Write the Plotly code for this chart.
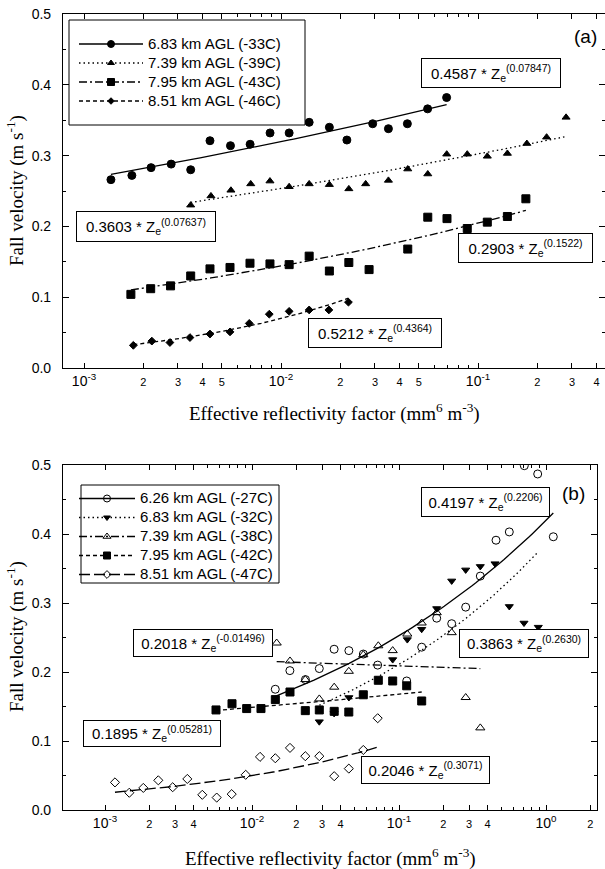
import numpy as np
import plotly.graph_objects as go

W, H = 605, 869


def px(x):
    return x / W


def py(y):
    return 1 - y / H


# ---------------- Panel (a) data ----------------
a_names = ["6.83 km AGL (-33C)", "7.39 km AGL (-39C)", "7.95 km AGL (-43C)", "8.51 km AGL (-46C)"]

a1_x = [1.37e-3, 1.75e-3, 2.19e-3, 2.77e-3, 3.48e-3, 4.36e-3, 5.54e-3, 6.97e-3, 8.80e-3,
        1.10e-2, 1.39e-2, 1.76e-2, 2.16e-2, 2.92e-2, 3.51e-2, 4.38e-2, 5.55e-2, 6.93e-2]
a1_y = [0.266, 0.272, 0.283, 0.288, 0.280, 0.321, 0.314, 0.316, 0.332,
        0.332, 0.347, 0.340, 0.322, 0.345, 0.338, 0.345, 0.366, 0.382]

a2_x = [3.48e-3, 4.41e-3, 5.57e-3, 7.02e-3, 8.79e-3, 1.10e-2, 1.39e-2, 1.76e-2, 2.21e-2, 2.69e-2,
        3.51e-2, 4.40e-2, 5.56e-2, 6.94e-2, 8.82e-2, 0.1115, 0.141, 0.177, 0.223, 0.280]
a2_y = [0.230, 0.243, 0.251, 0.260, 0.264, 0.256, 0.260, 0.259, 0.253, 0.260,
        0.265, 0.281, 0.274, 0.302, 0.302, 0.299, 0.303, 0.317, 0.326, 0.354]

a3_x = [1.73e-3, 2.18e-3, 2.75e-3, 3.48e-3, 4.36e-3, 5.51e-3, 6.96e-3, 8.79e-3, 1.10e-2, 1.39e-2,
        1.76e-2, 2.21e-2, 2.80e-2, 4.40e-2, 5.56e-2, 6.96e-2, 8.82e-2, 0.1115, 0.141, 0.175]
a3_y = [0.104, 0.112, 0.116, 0.130, 0.140, 0.142, 0.148, 0.147, 0.146, 0.158,
        0.137, 0.149, 0.139, 0.168, 0.213, 0.211, 0.197, 0.206, 0.214, 0.239]

a4_x = [1.78e-3, 2.21e-3, 2.73e-3, 3.45e-3, 4.36e-3, 5.51e-3, 6.90e-3, 8.72e-3, 1.10e-2, 1.39e-2,
        1.75e-2, 2.20e-2]
a4_y = [0.032, 0.038, 0.036, 0.043, 0.048, 0.051, 0.063, 0.076, 0.080, 0.082, 0.082, 0.093]

a_coef = [0.4587, 0.3603, 0.2903, 0.5212]
a_expo = [0.07847, 0.07637, 0.1522, 0.4364]
a_coef_txt = ["0.4587", "0.3603", "0.2903", "0.5212"]
a_expo_txt = ["0.07847", "0.07637", "0.1522", "0.4364"]

# ---------------- Panel (b) data ----------------
b_names = ["6.26 km AGL (-27C)", "6.83 km AGL (-32C)", "7.39 km AGL (-38C)",
           "7.95 km AGL (-42C)", "8.51 km AGL (-47C)"]

b1_x = [1.44e-2, 1.81e-2, 2.31e-2, 2.87e-2, 3.62e-2, 4.56e-2, 5.72e-2, 7.16e-2, 0.1128, 0.1427,
        0.1805, 0.2283, 0.2842, 0.3573, 0.457, 0.5627, 0.7118, 0.878, 1.121]
b1_y = [0.175, 0.202, 0.189, 0.205, 0.233, 0.231, 0.226, 0.210, 0.187, 0.236,
        0.278, 0.270, 0.294, 0.339, 0.391, 0.403, 0.499, 0.487, 0.396]

b2_x = [2.87e-2, 3.62e-2, 4.56e-2, 9.06e-2, 0.1139, 0.1427, 0.1805, 0.2283, 0.2842, 0.3573,
        0.4499, 0.5627, 0.7085, 0.8862]
b2_y = [0.128, 0.140, 0.163, 0.218, 0.247, 0.262, 0.292, 0.332, 0.348, 0.353,
        0.357, 0.295, 0.271, 0.265]

b3_x = [1.472e-2, 1.813e-2, 2.305e-2, 2.87e-2, 3.624e-2, 4.556e-2, 5.717e-2, 7.23e-2, 9.06e-2,
        0.1139, 0.1427, 0.1805, 0.2283, 0.2842, 0.3573]
b3_y = [0.242, 0.216, 0.189, 0.161, 0.178, 0.201, 0.225, 0.238, 0.231,
        0.255, 0.271, 0.286, 0.257, 0.163, 0.119]

b4_x = [5.69e-3, 7.31e-3, 9.20e-3, 1.151e-2, 1.441e-2, 1.813e-2, 2.305e-2, 2.87e-2, 3.624e-2,
        4.556e-2, 5.717e-2, 7.23e-2, 9.06e-2, 0.1128, 0.1427]
b4_y = [0.145, 0.154, 0.147, 0.147, 0.160, 0.171, 0.144, 0.145, 0.143,
        0.142, 0.167, 0.188, 0.187, 0.180, 0.158]

b5_x = [1.169e-3, 1.463e-3, 1.822e-3, 2.305e-3, 2.887e-3, 3.630e-3, 4.590e-3, 5.753e-3, 7.275e-3,
        9.06e-3, 1.134e-2, 1.441e-2, 1.813e-2, 2.305e-2, 2.87e-2, 3.624e-2, 4.556e-2, 5.717e-2,
        7.163e-2]
b5_y = [0.040, 0.025, 0.032, 0.043, 0.033, 0.045, 0.022, 0.018, 0.023,
        0.051, 0.077, 0.075, 0.090, 0.078, 0.078, 0.049, 0.060, 0.087, 0.133]

b_coef = [0.4197, 0.3863, 0.2018, 0.1895, 0.2046]
b_expo = [0.2206, 0.2630, -0.01496, 0.05281, 0.3071]
b_coef_txt = ["0.4197", "0.3863", "0.2018", "0.1895", "0.2046"]
b_expo_txt = ["0.2206", "0.2630", "-0.01496", "0.05281", "0.3071"]

# tick label texts
y_ticks = [0.0, 0.1, 0.2, 0.3, 0.4, 0.5]
a_decades = [-3, -2, -1]
a_minor_labels = [2, 3, 4, 5]
b_decades = [-3, -2, -1, 0]
b_minor_labels = [2, 3, 4]

# ---------------- styles ----------------
BLACK = "black"
a_sym = ["circle", "triangle-up", "square", "diamond"]
a_msize = [8, 7, 8, 6]
a_dash = ["solid", "1.5px,3px", "8px,3px,2px,3px", "4px,3px"]

b_sym = ["circle-open", "triangle-down", "triangle-up-open", "square", "diamond-open"]
b_msize = [8, 7, 8, 8, 7]
b_dash = ["solid", "1.5px,3px", "8px,3px,2px,3px", "4px,3px", "11px,4px"]

a_xs = [a1_x, a2_x, a3_x, a4_x]
a_ys = [a1_y, a2_y, a3_y, a4_y]
b_xs = [b1_x, b2_x, b3_x, b4_x, b5_x]
b_ys = [b1_y, b2_y, b3_y, b4_y, b5_y]

fig = go.Figure()


def add_panel(xs, ys, names, coefs, expos, syms, msizes, dashes, xa, ya, legend_name):
    for i in range(len(xs)):
        x = np.array(xs[i])
        fx = np.logspace(np.log10(x.min()), np.log10(x.max()), 80)
        fy = coefs[i] * fx ** expos[i]
        fig.add_trace(go.Scatter(x=fx, y=fy, mode="lines", xaxis=xa, yaxis=ya,
                                 line=dict(color=BLACK, width=1.3, dash=dashes[i]),
                                 showlegend=False, hoverinfo="skip"))
    for i in range(len(xs)):
        fig.add_trace(go.Scatter(x=xs[i], y=ys[i], mode="markers", xaxis=xa, yaxis=ya,
                                 marker=dict(symbol=syms[i], size=msizes[i], color=BLACK,
                                             line=dict(color=BLACK, width=1)),
                                 showlegend=False))
    for i in range(len(xs)):
        fig.add_trace(go.Scatter(x=[None], y=[None], mode="lines+markers", xaxis=xa, yaxis=ya,
                                 name="<span style='font-size:15px'>" + names[i] + "</span>",
                                 legend=legend_name,
                                 line=dict(color=BLACK, width=1.3, dash=dashes[i]),
                                 marker=dict(symbol=syms[i], size=msizes[i] - 1, color=BLACK,
                                             line=dict(color=BLACK, width=1))))


add_panel(a_xs, a_ys, a_names, a_coef, a_expo, a_sym, a_msize, a_dash, "x", "y", "legend")
add_panel(b_xs, b_ys, b_names, b_coef, b_expo, b_sym, b_msize, b_dash, "x2", "y2", "legend2")


def log_ticks(decades, minor_labels, vmax):
    vals, texts, minor_vals = [], [], []
    for d in decades:
        for m in range(1, 10):
            v = m * 10.0 ** d
            if v > vmax:
                break
            if m == 1:
                vals.append(v)
                texts.append("10<sup>%d</sup>" % d)
            elif m in minor_labels:
                vals.append(v)
                texts.append("<span style='font-size:11px'>%d</span>" % m)
            else:
                minor_vals.append(v)
    return vals, texts, minor_vals


a_tv, a_tt, a_mv = log_ticks(a_decades, a_minor_labels, 0.45)
b_tv, b_tt, b_mv = log_ticks(b_decades, b_minor_labels, 2.1)

TICKFONT = dict(family="Liberation Sans", size=14, color=BLACK)
common_x = dict(type="log", ticks="inside", ticklen=5, tickcolor=BLACK, showline=True,
                linecolor=BLACK, linewidth=1.2, mirror="allticks", showgrid=False, zeroline=False,
                tickfont=TICKFONT, tickmode="array", tickangle=0, automargin=False)
common_y = dict(range=[0, 0.5], tickmode="array", tickvals=y_ticks, tickformat=".1f",
                ticks="inside", ticklen=6, tickcolor=BLACK, showline=True, linecolor=BLACK,
                linewidth=1.2, mirror="allticks", showgrid=False, zeroline=False,
                tickfont=TICKFONT, ticklabelstandoff=8, automargin=False,
                minor=dict(dtick=0.05, ticks="inside", ticklen=3, tickcolor=BLACK))

fig.update_layout(
    xaxis=dict(common_x, domain=[px(63), 1.0], anchor="y",
               range=[-3.1066, -0.3553], tickvals=a_tv, ticktext=a_tt,
               minor=dict(tickmode="array", tickvals=a_mv, ticks="inside", ticklen=3,
                          tickcolor=BLACK, showgrid=False)),
    yaxis=dict(common_y, domain=[py(368), py(14)], anchor="x"),
    xaxis2=dict(common_x, domain=[px(63), px(597)], anchor="y2",
                range=[-3.2857, 0.3469], tickvals=b_tv, ticktext=b_tt,
                minor=dict(tickmode="array", tickvals=b_mv, ticks="inside", ticklen=3,
                           tickcolor=BLACK, showgrid=False)),
    yaxis2=dict(common_y, domain=[py(810), py(465)], anchor="x2"),
)

# legend frames
shapes = [
    dict(type="rect", xref="paper", yref="paper", x0=px(69), x1=px(305), y0=py(125), y1=py(20),
         fillcolor="white", line=dict(color=BLACK, width=1), layer="above"),
    dict(type="rect", xref="paper", yref="paper", x0=px(81), x1=px(279), y0=py(583), y1=py(485),
         fillcolor="white", line=dict(color=BLACK, width=1), layer="above"),
]

annotations = []
EQFONT = dict(family="Liberation Sans", size=15, color=BLACK)


def eq_box(coef_t, expo_t, cx, cy, w, h):
    annotations.append(dict(
        xref="paper", yref="paper", x=px(cx), y=py(cy), xanchor="center", yanchor="middle",
        text=coef_t + " * Z<sub>e</sub><sup>(" + expo_t + ")</sup>", showarrow=False,
        font=EQFONT, bgcolor="white", bordercolor=BLACK, borderwidth=1, borderpad=4,
        width=w - 10, height=h - 10, align="center", valign="middle"))


a_box = [(491, 73, 140, 30), (146, 226, 140, 31), (525, 248, 135, 30), (374.5, 333, 134, 30)]
for i in range(4):
    eq_box(a_coef_txt[i], a_expo_txt[i], *a_box[i])

b_box = [(486, 502, 129, 30), (524, 643, 130, 29), (203, 643, 140, 28), (152, 733, 138, 27),
         (425.5, 770, 129, 28)]
for i in range(5):
    eq_box(b_coef_txt[i], b_expo_txt[i], *b_box[i])

PANEL_FONT = dict(family="Liberation Sans", size=19, color=BLACK)
annotations.append(dict(xref="paper", yref="paper", x=px(585), y=py(37), text="(a)",
                        showarrow=False, font=PANEL_FONT, xanchor="center", yanchor="middle"))
annotations.append(dict(xref="paper", yref="paper", x=px(573), y=py(493), text="(b)",
                        showarrow=False, font=PANEL_FONT, xanchor="center", yanchor="middle"))

TITLEFONT = dict(family="Liberation Serif", size=19, color=BLACK)
xt = "Effective reflectivity factor (mm<sup>6</sup> m<sup>-3</sup>)"
yt = "Fall velocity (m s<sup>-1</sup>)"
annotations.append(dict(xref="paper", yref="paper", x=px(334), y=py(413), text=xt,
                        showarrow=False, font=TITLEFONT, xanchor="center", yanchor="middle"))
annotations.append(dict(xref="paper", yref="paper", x=px(330), y=py(857), text=xt,
                        showarrow=False, font=TITLEFONT, xanchor="center", yanchor="middle"))
annotations.append(dict(xref="paper", yref="paper", x=px(15), y=py(191), text=yt, textangle=-90,
                        showarrow=False, font=TITLEFONT, xanchor="center", yanchor="middle"))
annotations.append(dict(xref="paper", yref="paper", x=px(15), y=py(637), text=yt, textangle=-90,
                        showarrow=False, font=TITLEFONT, xanchor="center", yanchor="middle"))

legend_common = dict(xanchor="left", yanchor="top", bgcolor="rgba(0,0,0,0)", borderwidth=0,
                     tracegroupgap=0, traceorder="normal")
fig.update_layout(
    width=W, height=H, margin=dict(l=0, r=0, t=0, b=0),
    paper_bgcolor="white", plot_bgcolor="white",
    shapes=shapes, annotations=annotations,
    legend=dict(legend_common, x=px(74), y=py(29.5), itemwidth=64,
                font=dict(family="Liberation Sans", size=12.3, color=BLACK)),
    legend2=dict(legend_common, x=px(74), y=py(484), itemwidth=56,
                 font=dict(family="Liberation Sans", size=11.5, color=BLACK)),
    showlegend=True,
)

fig.write_html("out.html")
